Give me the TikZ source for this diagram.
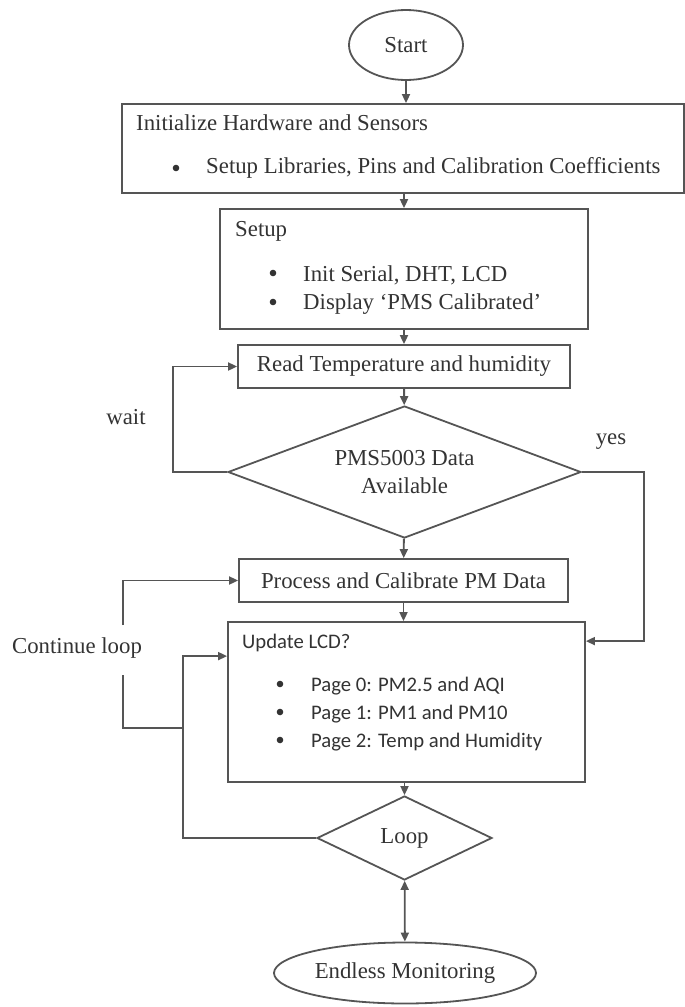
\documentclass[tikz,border=0pt]{standalone}
\usepackage{fontspec}
\setmainfont{Liberation Serif}
\newfontfamily\lcdfont{Carlito}
\usetikzlibrary{shapes.geometric,arrows.meta,calc}
\definecolor{ink}{HTML}{555555}
\definecolor{txt}{HTML}{333333}
\tikzset{
    procbox/.style={draw=ink, line width=1.8pt, rectangle, inner sep=0pt},
    decide/.style={draw=ink, line width=1.8pt, diamond, inner sep=0pt},
    terminal/.style={draw=ink, line width=1.8pt, ellipse, inner sep=0pt},
    line/.style={draw=ink, line width=1.8pt},
    flow/.style={line, -{Triangle[length=9pt,width=8pt]}},
    item/.style={anchor=west, inner sep=0pt},
}
\begin{document}
\begin{tikzpicture}[x=1pt, y=-1pt, font=\fontsize{22.8}{27.4}\selectfont, text=txt]
    \useasboundingbox (0,0) rectangle (685,1007);
    % main column
    \node[terminal, minimum width=114pt, minimum height=70pt] (start) at (406,45) {Start};
    \node[procbox, minimum width=562pt, minimum height=89pt] (init) at (403,148.5) {};
    \node[procbox, minimum width=368pt, minimum height=120pt] (setup) at (404,269) {};
    \node[procbox, minimum width=332pt, minimum height=43pt] (read) at (404,366.5) {Read Temperature and humidity};
    \node[decide, minimum width=353pt, minimum height=132pt, aspect=2.67, align=center] (avail) at (404.5,472) {PMS5003 Data\\Available};
    \node[procbox, minimum width=329pt, minimum height=43pt] (proc) at (403.5,580.5) {Process and Calibrate PM Data};
    \node[procbox, minimum width=357pt, minimum height=160pt] (lcd) at (406.5,702) {};
    \node[decide, minimum width=175pt, minimum height=84pt, aspect=2.08] (loop) at (404.5,838) {Loop};
    \node[terminal, minimum width=262pt, minimum height=61pt] (finish) at (405,973) {Endless Monitoring};
    % box texts
    \node[item] (inittitle) at (136,123) {Initialize Hardware and Sensors};
    \node[item] (initlibs) at (206,168) {Setup Libraries, Pins and Calibration Coefficients};
    \node[item] (setuptitle) at (235,231) {Setup};
    \node[item] (setupinit) at (303,275) {Init Serial, DHT, LCD};
    \node[item] (setupshow) at (303,304) {Display `PMS Calibrated'};
\begin{scope}[font=\lcdfont\fontsize{20.7}{24}\selectfont]
    \node[item] (lcdtitle) at (242,643) {Update LCD?};
    \foreach \y/\txt [count=\i from 0] in {686/{Page 0: PM2.5 and AQI},714/{Page 1: PM1 and PM10},742/{Page 2: Temp and Humidity}}
    {
        \node[item] (lcdpage\i) at (311,\y) {\txt};
    }
\end{scope}
    % bullets
\foreach \x/\y in {176/168,273/273,273/302,280/684,280/712,280/740}
{
    \fill[txt] (\x,\y) circle (3.3pt);
}
    % side labels
    \node (wait) at (126,417) {wait};
    \node (yes) at (611,442) {yes};
    \node (cont) at (77,648) {Continue loop};
    % straight links
    \draw[flow] (start) -- (start |- init.north);
    \draw[flow] (setup.north |- init.south) -- (setup.north);
    \draw[flow] (setup) -- (read);
    \draw[flow] (read) -- (avail);
    \draw[flow] (avail) -- (proc);
    \draw[flow] (proc.south) -- (proc.south |- lcd.north);
    \draw[flow] (loop.north |- lcd.south) -- (loop.north);
    \draw[line, {Triangle[length=9pt,width=8pt]}-{Triangle[length=9pt,width=8pt]}] (loop) -- (finish);
    % loops back and branches
    \coordinate (yesin) at ($(lcd.north east)+(0,20)$);
    \coordinate (lcdin) at ($(lcd.north west)+(0,35)$);
    \coordinate (rail) at (183,728);
    \coordinate (gapb) at (123,675);
    \coordinate (gapt) at (123,625);
    \draw[flow] (avail.west) -- ++(-54,0) |- (read.west);
    \draw[flow] (avail.east) -- ++(62,0) |- (yesin);
    \draw[flow] (loop.west) -| (rail) |- (lcdin);
    \draw[line] (rail) -| (gapb);
    \draw[flow] (gapt) |- (proc.west);
\end{tikzpicture}
\end{document}
